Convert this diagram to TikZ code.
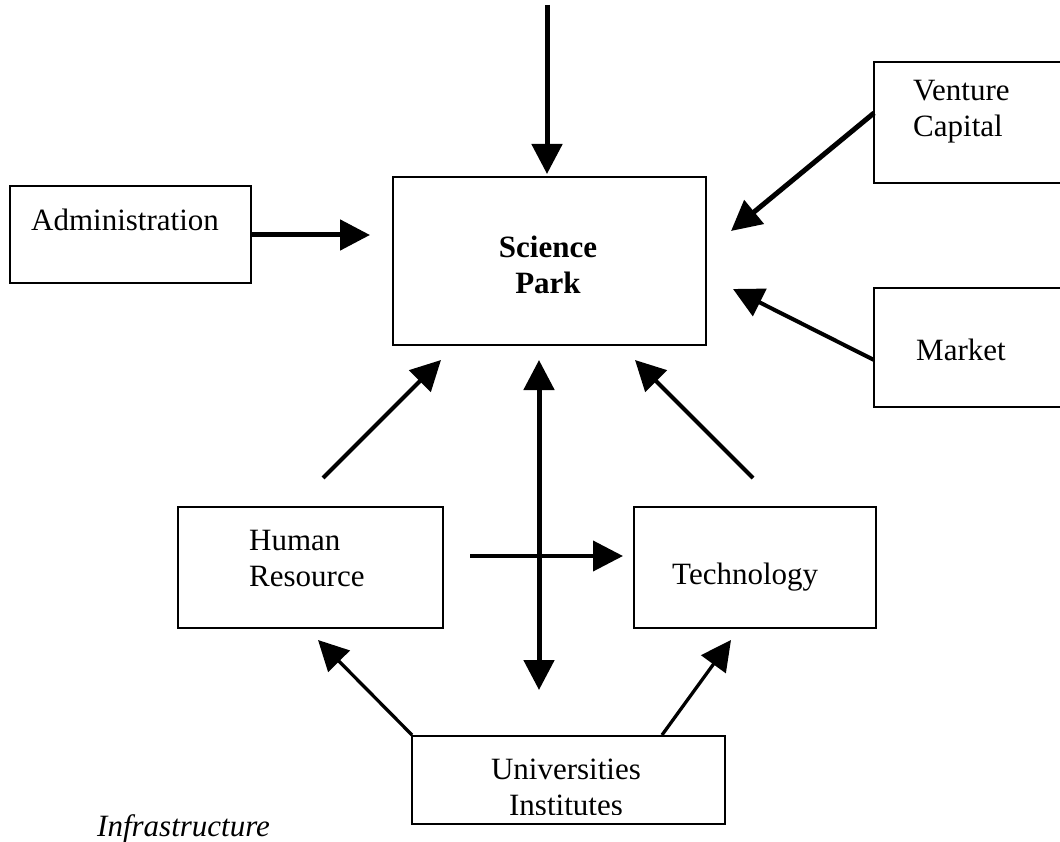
\documentclass[tikz,border=0pt]{standalone}
\usepackage{fontspec}
\setmainfont{Liberation Serif}
\usetikzlibrary{arrows.meta}
\begin{document}
\begin{tikzpicture}[x=1pt,y=-1pt,
  box/.style={draw,line width=1.6pt,inner sep=0pt,minimum width=#1},
  lbl/.style={inner sep=0pt,font=\fontsize{31}{36}\selectfont},
  arr/.style={-{Triangle[length=30pt,width=30pt]},line width=#1},
]
\useasboundingbox (0,0) rectangle (1060,842);
\clip (0,0) rectangle (1060,842);
% boxes
\node[box=241pt,minimum height=97pt]  (admin) at (130.5,234.5) {};
\node[box=313pt,minimum height=168pt] (sp)    at (549.5,261) {};
\node[box=226pt,minimum height=121pt] (vc)    at (987,122.5) {};
\node[box=226pt,minimum height=119pt] (mkt)   at (987,347.5) {};
\node[box=265pt,minimum height=121pt] (hr)    at (310.5,567.5) {};
\node[box=242pt,minimum height=121pt] (tech)  at (755,567.5) {};
\node[box=313pt,minimum height=88pt]  (univ)  at (568.5,780) {};
% labels
\node[lbl,anchor=west] (tadmin) at (31,220) {Administration};
\node[lbl,align=center,font=\fontsize{31}{36}\selectfont\bfseries] (tsp) at (548,265) {Science\\Park};
\node[lbl,anchor=west,align=left] (tvc) at (913,112) {Venture\\Capital};
\node[lbl,anchor=west] (tmkt) at (916,350) {Market};
\node[lbl,anchor=west,align=left] (thr) at (249,558) {Human\\Resource};
\node[lbl,anchor=west] (ttech) at (672,577) {Technology};
\begin{scope}
\clip (413,737) rectangle (724,814);
\node[lbl,align=center] (tuniv) at (566,787) {Universities\\Institutes};
\end{scope}
\node[lbl,anchor=west,font=\fontsize{31}{36}\selectfont\itshape] (tinfra) at (97,829) {Infrastructure};
% connector coordinates
\coordinate (topS) at (547,5);
\coordinate (topE) at (547,174);
\coordinate (adE) at (370,235);
\coordinate (vcS) at (874,113);
\coordinate (vcE) at (731,231);
\coordinate (mkS) at (874,360);
\coordinate (mkE) at (733,289);
\coordinate (hrS) at (323,478);
\coordinate (hrE) at (441,360);
\coordinate (teS) at (753,478);
\coordinate (teE) at (635,360);
\coordinate (dbT) at (539,360);
\coordinate (dbB) at (539,690);
\coordinate (htS) at (470,556);
\coordinate (htE) at (623,556);
\coordinate (uhS) at (412,735);
\coordinate (uhE) at (318,640);
\coordinate (utS) at (662,735);
\coordinate (utE) at (731,640);
% connectors
\draw[arr=5pt] (topS) -- (topE);
\draw[arr=5pt] (admin.east |- adE) -- (adE);
\draw[arr=5pt] (vcS) -- (vcE);
\draw[arr=4pt] (mkS) -- (mkE);
\draw[arr=4.2pt] (hrS) -- (hrE);
\draw[arr=4.2pt] (teS) -- (teE);
\draw[{Triangle[length=30pt,width=30pt]}-{Triangle[length=30pt,width=30pt]},line width=5pt] (dbT) -- (dbB);
\draw[arr=4pt] (htS) -- (htE);
\draw[arr=3.3pt] (uhS) -- (uhE);
\draw[arr=3.3pt] (utS) -- (utE);
\end{tikzpicture}
\end{document}
